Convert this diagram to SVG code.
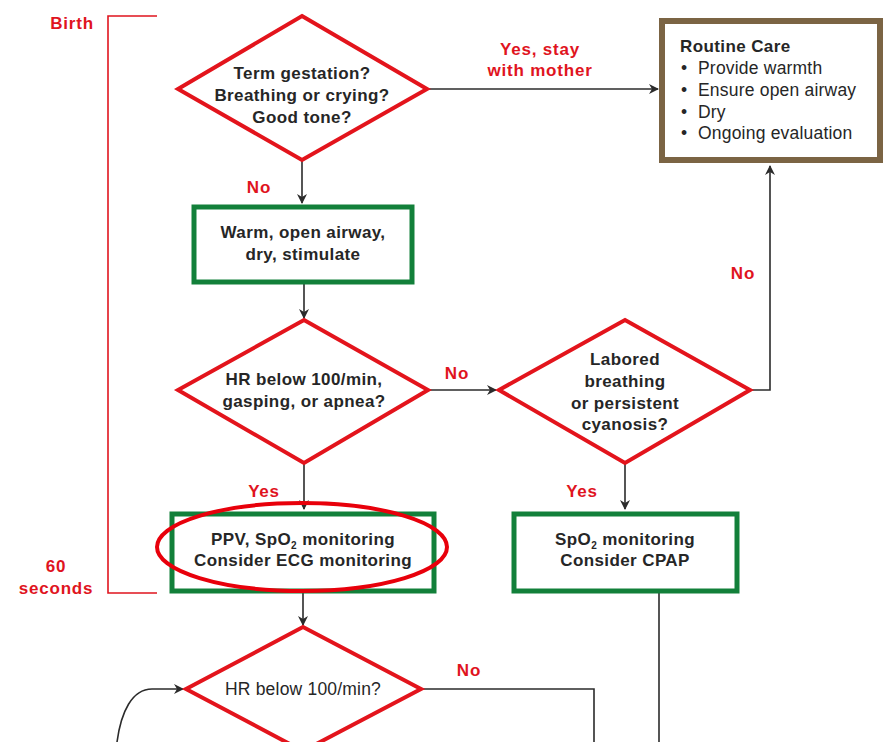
<svg xmlns="http://www.w3.org/2000/svg" width="885" height="742" viewBox="0 0 885 742">
<style>
.t{font-family:"Liberation Sans",Arial,sans-serif;font-weight:bold;font-size:17px;fill:#262626;text-anchor:middle;letter-spacing:0.4px}
.r{font-family:"Liberation Sans",Arial,sans-serif;font-weight:bold;font-size:17px;fill:#e0141e;text-anchor:middle;letter-spacing:0.8px}
.n{font-family:"Liberation Sans",Arial,sans-serif;font-size:17.5px;fill:#262626;letter-spacing:0.2px}
.d{fill:#fff;stroke:#e3141c;stroke-width:4;stroke-linejoin:miter}
.g{fill:#fff;stroke:#12803a;stroke-width:5}
.c{fill:none;stroke:#2b2b2b;stroke-width:1.6}
.br{fill:none;stroke:#e0141e;stroke-width:1.6}
.sub{font-size:10px}
</style>
<defs>
<marker id="ah" markerWidth="10" markerHeight="10" refX="9" refY="5" orient="auto" markerUnits="userSpaceOnUse">
<path d="M0,0 L10,5 L0,10 L3,5 Z" fill="#2b2b2b"/>
</marker>
</defs>
<rect width="885" height="742" fill="#fff"/>

<g id="timeline">
<polyline class="br" points="157,16 108,16 108,593 157,593"/>
<text class="r" x="72" y="29">Birth</text>
<text class="r" x="56" y="572">60</text>
<text class="r" x="56" y="594">seconds</text>
</g>

<g id="connectors">
<line class="c" x1="302" y1="160" x2="302" y2="203" marker-end="url(#ah)"/>
<line class="c" x1="427" y1="89" x2="658" y2="89" marker-end="url(#ah)"/>
<line class="c" x1="304" y1="283" x2="304" y2="318" marker-end="url(#ah)"/>
<line class="c" x1="428" y1="390" x2="496" y2="390" marker-end="url(#ah)"/>
<line class="c" x1="304" y1="463" x2="304" y2="509" marker-end="url(#ah)"/>
<line class="c" x1="625" y1="463" x2="625" y2="509" marker-end="url(#ah)"/>
<polyline class="c" points="750,390 770,390 770,166" marker-end="url(#ah)"/>
<line class="c" x1="303" y1="593" x2="303" y2="625" marker-end="url(#ah)"/>
<polyline class="c" points="421,689 594,689 594,742"/>
<line class="c" x1="659" y1="593" x2="659" y2="742"/>
<path class="c" d="M117,742 C121,712 132,689 152,689 L183,689" marker-end="url(#ah)"/>
<text class="r" x="540" y="55">Yes, stay</text>
<text class="r" x="540" y="76">with mother</text>
<text class="r" x="259" y="193">No</text>
<text class="r" x="457" y="379">No</text>
<text class="r" x="743" y="279">No</text>
<text class="r" x="264" y="497">Yes</text>
<text class="r" x="582" y="497">Yes</text>
<text class="r" x="469" y="676">No</text>
</g>

<g id="d1">
<polygon class="d" points="302,16 427,89 302,160 178,89"/>
<text class="t" x="302" y="79">Term gestation?</text>
<text class="t" x="302" y="101">Breathing or crying?</text>
<text class="t" x="302" y="123">Good tone?</text>
</g>

<g id="routine">
<rect x="662" y="21" width="218" height="139" fill="#fff" stroke="#7b6444" stroke-width="6"/>
<text class="t" x="680" y="52" style="text-anchor:start">Routine Care</text>
<text class="n" x="681" y="74">•</text><text class="n" x="698" y="74">Provide warmth</text>
<text class="n" x="681" y="96">•</text><text class="n" x="698" y="96">Ensure open airway</text>
<text class="n" x="681" y="118">•</text><text class="n" x="698" y="118">Dry</text>
<text class="n" x="681" y="139">•</text><text class="n" x="698" y="139">Ongoing evaluation</text>
</g>

<g id="warm">
<rect class="g" x="194" y="207" width="218" height="75"/>
<text class="t" x="303" y="238">Warm, open airway,</text>
<text class="t" x="303" y="260">dry, stimulate</text>
</g>

<g id="d2">
<polygon class="d" points="304,320 428,390 304,463 178,390"/>
<text class="t" x="304" y="385">HR below 100/min,</text>
<text class="t" x="304" y="407">gasping, or apnea?</text>
</g>

<g id="d3">
<polygon class="d" points="625,320 750,390 625,463 499,390"/>
<text class="t" x="625" y="365">Labored</text>
<text class="t" x="625" y="387">breathing</text>
<text class="t" x="625" y="409">or persistent</text>
<text class="t" x="625" y="430">cyanosis?</text>
</g>

<g id="ppv">
<rect class="g" x="172" y="514" width="262" height="77"/>
<text class="t" x="303" y="545">PPV, Sp<tspan>O</tspan><tspan class="sub" dy="4">2</tspan><tspan dy="-4"> monitoring</tspan></text>
<text class="t" x="303" y="566">Consider ECG monitoring</text>
</g>

<g id="cpap">
<rect class="g" x="514" y="514" width="223" height="77"/>
<text class="t" x="625" y="545">SpO<tspan class="sub" dy="4">2</tspan><tspan dy="-4"> monitoring</tspan></text>
<text class="t" x="625" y="566">Consider CPAP</text>
</g>

<g id="d4">
<polygon class="d" points="303,627 421,689 303,751 186,689"/>
<text class="n" x="303" y="695" style="text-anchor:middle">HR below 100/min?</text>
</g>

<g id="highlight">
<ellipse cx="302" cy="547" rx="145" ry="44" fill="none" stroke="#e8000b" stroke-width="4"/>
</g>
</svg>
